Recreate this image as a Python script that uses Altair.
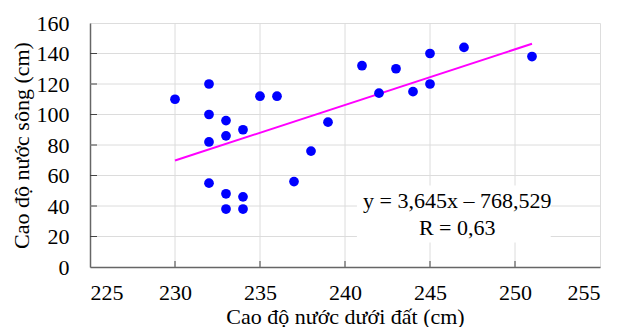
import altair as alt
import pandas as pd

# Data
gw_level = [230, 232, 232, 232, 232, 233, 233, 233, 233, 234, 234, 234, 235, 236,
            237, 238, 239, 241, 242, 243, 244, 245, 245, 247, 251]
river_level = [110, 120, 100, 82, 55, 96, 86, 48, 38, 90, 46, 38, 112, 112,
               56, 76, 95, 132, 114, 130, 115, 140, 120, 144, 138]

x_ticks = [225, 230, 235, 240, 245, 250, 255]
y_ticks = [0, 20, 40, 60, 80, 100, 120, 140, 160]

slope = 3.645
intercept = -768.529
fit_x = [230, 251]

eq_lines = ["y = 3,645x – 768,529", "R = 0,63"]
eq_x = [246.6, 246.6]
eq_y = [43.5, 25.5]
box = {"x": [240.7], "x2": [252.1], "y": [16.0], "y2": [53.5]}

FONT = "Liberation Serif"
FS = 22
W, H = 510, 244

df = pd.DataFrame({"x": gw_level, "y": river_level})
fit = pd.DataFrame({"x": fit_x, "y": [slope * v + intercept for v in fit_x]})
eq = pd.DataFrame({"t": eq_lines, "x": eq_x, "y": eq_y})
boxdf = pd.DataFrame(box)
xt = pd.DataFrame({"v": x_ticks[1:-1]})
yt = pd.DataFrame({"v": y_ticks[1:-1]})

xs = alt.Scale(domain=[225, 255], nice=False, zero=False)
ys = alt.Scale(domain=[0, 160], nice=False)

xaxis = alt.Axis(values=x_ticks, title="Cao độ nước dưới đất (cm)", grid=False,
                 labelFont=FONT, labelFontSize=FS, labelColor="black", labelPadding=15,
                 labelOverlap=False,
                 titleFont=FONT, titleFontSize=FS, titleFontWeight="normal", titleColor="black",
                 titlePadding=3, ticks=False, domainColor="#666", domainWidth=1.5)
yaxis = alt.Axis(values=y_ticks, title="Cao độ nước sông (cm)", grid=False,
                 labelFont=FONT, labelFontSize=FS, labelColor="black", labelPadding=21,
                 labelOverlap=False,
                 titleFont=FONT, titleFontSize=FS, titleFontWeight="normal", titleColor="black",
                 titlePadding=3, ticks=False, domainColor="#666", domainWidth=1.5)

X = lambda f: alt.X(f, scale=xs, axis=xaxis)
Y = lambda f: alt.Y(f, scale=ys, axis=yaxis)

# gridlines
xgrid = alt.Chart(xt).mark_rule(color="#dcdcdc", strokeWidth=1).encode(
    x=X("v:Q"), y=alt.value(0), y2=alt.value(H)
)
ygrid = alt.Chart(yt).mark_rule(color="#dcdcdc", strokeWidth=1).encode(
    y=Y("v:Q"), x=alt.value(0), x2=alt.value(W)
)

points = alt.Chart(df).mark_circle(size=95, color="#0000FF", opacity=1).encode(
    x=X("x:Q"), y=Y("y:Q"),
)

line = alt.Chart(fit).mark_line(color="#FF00FF", strokeWidth=2).encode(
    x=X("x:Q"), y=Y("y:Q")
)

rect = alt.Chart(boxdf).mark_rect(color="white").encode(
    x=X("x:Q"), x2="x2:Q", y=Y("y:Q"), y2="y2:Q"
)

text = alt.Chart(eq).mark_text(font=FONT, fontSize=FS, color="black", align="center",
                               baseline="middle").encode(
    x=X("x:Q"), y=Y("y:Q"), text="t:N"
)

# inward tick marks
xtick = alt.Chart(xt).mark_rule(color="#444", strokeWidth=1).encode(
    x=X("v:Q"), y=alt.value(H), y2=alt.value(H - 6)
)
ytick = alt.Chart(yt).mark_rule(color="#444", strokeWidth=1).encode(
    y=Y("v:Q"), x=alt.value(0), x2=alt.value(7)
)

chart = alt.layer(xgrid, ygrid, rect, line, points, text, xtick, ytick).properties(
    width=W, height=H,
    autosize=alt.AutoSizeParams(type="none"),
    padding={"left": 82, "top": 15, "right": 10, "bottom": 60},
).configure_view(stroke="#aaa", strokeWidth=1.5).configure(background="white")

chart.save("out.html", embed_options={"renderer": "svg", "actions": False})
